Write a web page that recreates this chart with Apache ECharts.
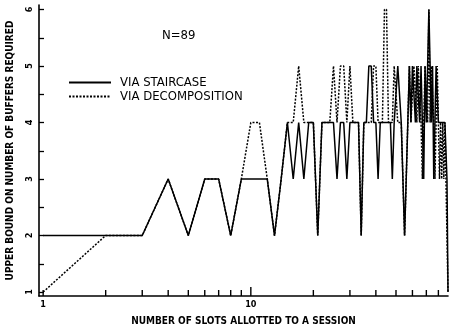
<!DOCTYPE html>
<html>
<head>
<meta charset="utf-8">
<script src="https://cdn.jsdelivr.net/npm/echarts@6/dist/echarts.min.js"></script>
<style>
  html, body { margin: 0; padding: 0; background: #fff; }
  #chart { width: 450px; height: 331px; }
</style>
</head>
<body>
<div id="chart"></div>
<script>
// slots allotted to a session (x), N = 89
const slots = [
   1,  2,  3,  4,  5,  6,  7,  8,  9, 10, 11, 12, 13, 14, 15, 16, 17, 18, 19, 20,
  21, 22, 23, 24, 25, 26, 27, 28, 29, 30, 31, 32, 33, 34, 35, 36, 37, 38, 39, 40,
  41, 42, 43, 44, 45, 46, 47, 48, 49, 50, 51, 52, 53, 54, 55, 56, 57, 58, 59, 60,
  61, 62, 63, 64, 65, 66, 67, 68, 69, 70, 71, 72, 73, 74, 75, 76, 77, 78, 79, 80,
  81, 82, 83, 84, 85, 86, 87, 88, 89
];

// upper bound on buffers
const viaStaircase = [
  2, 2, 2, 3, 2, 3, 3, 2, 3, 3, 3, 3, 2, 3, 4, 3, 4, 3, 4, 4,
  2, 4, 4, 4, 4, 3, 4, 4, 3, 4, 4, 4, 4, 2, 4, 4, 5, 5, 4, 4,
  3, 4, 4, 4, 4, 4, 4, 3, 4, 4, 5, 5, 4, 4, 2, 3, 4, 5, 4, 5,
  5, 4, 5, 5, 4, 5, 4, 3, 5, 4, 5, 6, 5, 4, 5, 3, 4, 5, 5, 4,
  4, 4, 4, 4, 4, 4, 4, 3, 1
];
const viaDecomposition = [
  1, 2, 2, 3, 2, 3, 3, 2, 3, 4, 4, 3, 2, 3, 4, 4, 5, 4, 4, 4,
  2, 4, 4, 4, 5, 4, 5, 5, 4, 5, 4, 4, 4, 2, 4, 4, 4, 4, 5, 5,
  4, 4, 4, 6, 6, 4, 4, 4, 5, 5, 4, 4, 4, 4, 2, 3, 4, 5, 4, 4,
  5, 5, 4, 5, 5, 4, 3, 4, 5, 5, 4, 6, 4, 5, 5, 4, 3, 4, 5, 4,
  3, 4, 3, 4, 3, 4, 3, 3, 1
];

const xTicks  = [1, 2, 3, 4, 5, 6, 7, 8, 9, 10, 20, 30, 40, 50, 60, 70, 80];
const xLabels = [1, 10];
const yTicks  = [1, 1.5, 2, 2.5, 3, 3.5, 4, 4.5, 5, 5.5, 6];
const yLabels = [1, 2, 3, 4, 5, 6];

const X_MIN = 0.955, X_MAX = 89;
const Y_MIN = 0.93, Y_MAX = 6.08;
const FONT = "'DejaVu Sans Condensed', 'Liberation Sans Narrow', 'DejaVu Sans', sans-serif";
const INK = "#000";

const chart = echarts.init(document.getElementById("chart"), null, { renderer: "canvas" });

const axisFont = { fontFamily: FONT, fontSize: 9, fontWeight: "bold", color: INK };
const nameFont = { fontFamily: FONT, fontSize: 10, fontWeight: "bold", color: INK };

chart.setOption({
  animation: false,
  backgroundColor: "#fff",
  title: {
    text: "N=89", left: 157, top: 24,
    textStyle: { fontFamily: FONT, fontSize: 13, fontWeight: "normal", color: INK },
  },
  legend: {
    orient: "vertical", left: 68, top: 76, padding: 0,
    itemWidth: 42, itemHeight: 10, itemGap: 1,
    itemStyle: { opacity: 0 },
    textStyle: { fontFamily: FONT, fontSize: 13, color: INK, padding: [0, 0, 0, 4] },
    data: ["VIA STAIRCASE", "VIA DECOMPOSITION"],
  },
  grid: { left: 39, right: 2, top: 5, bottom: 35, outerBoundsMode: "none", containLabel: false },
  xAxis: {
    type: "log", logBase: 10, min: X_MIN, max: X_MAX,
    name: "NUMBER OF SLOTS ALLOTTED TO A SESSION",
    nameLocation: "middle", nameGap: 20, nameTextStyle: nameFont,
    axisLine: { show: true, lineStyle: { color: INK, width: 1.6 } },
    axisTick: { show: false },
    axisLabel: { customValues: xLabels, margin: 4, ...axisFont },
    splitLine: { show: false },
  },
  yAxis: {
    type: "value", min: Y_MIN, max: Y_MAX,
    name: "UPPER BOUND ON NUMBER OF BUFFERS REQUIRED",
    nameLocation: "middle", nameGap: 24, nameRotate: 90, nameTextStyle: nameFont,
    axisLine: { show: true, lineStyle: { color: INK, width: 1.6 } },
    axisTick: { show: true, inside: true, length: 5, customValues: yTicks,
                lineStyle: { color: INK, width: 1.3 } },
    axisLabel: { customValues: yLabels, rotate: 90, margin: 5, ...axisFont },
    splitLine: { show: false },
  },
  series: [
    {
      name: "VIA STAIRCASE", type: "line", symbol: "none",
      data: slots.map((n, i) => [n, viaStaircase[i]]),
      lineStyle: { color: INK, width: 1.5, type: "solid" },
      itemStyle: { color: INK },
    },
    {
      name: "VIA DECOMPOSITION", type: "line", symbol: "none",
      data: slots.map((n, i) => [n, viaDecomposition[i]]),
      lineStyle: { color: INK, width: 1.5, type: [2, 1.5] },
      itemStyle: { color: INK },
    },
    {
      // x tick marks on the log axis (1..9, 10..80), standing up from the axis line
      name: "xticks", type: "custom", silent: true, clip: false, z: 10,
      data: xTicks.map(t => [t, Y_MIN]),
      encode: { x: 0, y: 1 },
      renderItem: (params, api) => {
        const p = api.coord([api.value(0), api.value(1)]);
        const len = api.value(0) === 10 ? 9 : 6;
        return {
          type: "line",
          shape: { x1: p[0], y1: p[1], x2: p[0], y2: p[1] - len },
          style: { stroke: INK, lineWidth: 1.4 },
        };
      },
    },
  ],
});
</script>
</body>
</html>
